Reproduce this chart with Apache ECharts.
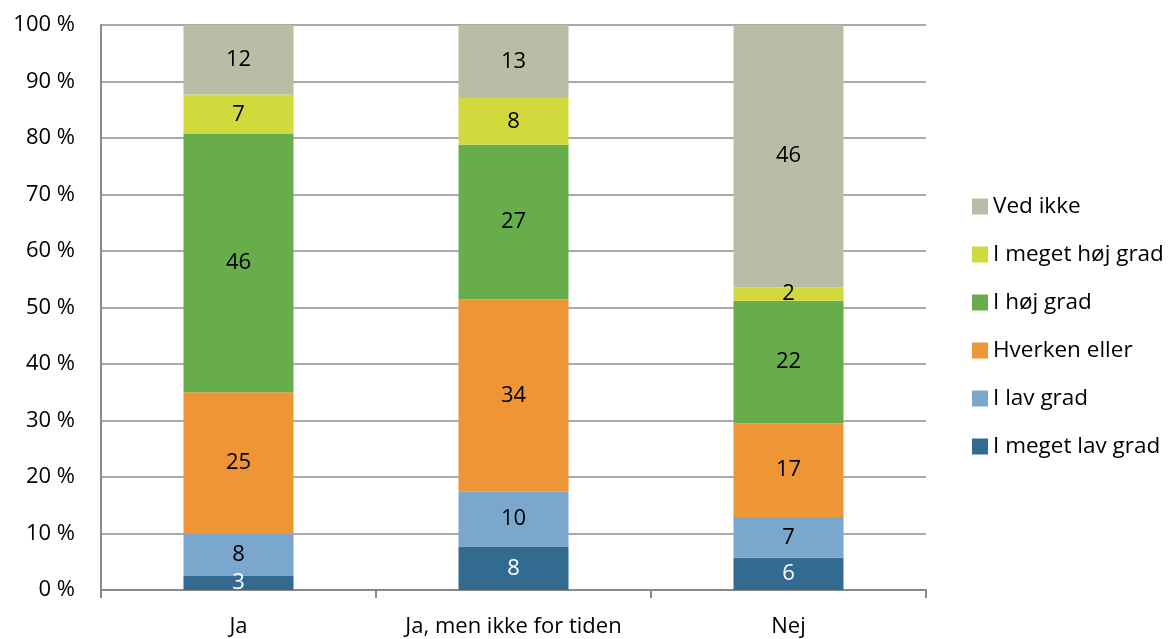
<!DOCTYPE html>
<html>
<head>
<meta charset="utf-8">
<script src="https://cdn.jsdelivr.net/npm/echarts@6/dist/echarts.min.js"></script>
<style>
  html, body { margin: 0; padding: 0; background: #fff; }
  #chart { width: 1169px; height: 639px; }
</style>
</head>
<body>
<div id="chart"></div>
<script>
// kategorier på x-aksen
var categories = ["Ja", "Ja, men ikke for tiden", "Nej"];

// andele i procent, nederst -> øverst
var meget_lav = [2.5, 7.7, 5.7];
var lav = [7.5, 9.8, 7.2];
var hverken = [25.0, 33.9, 16.6];
var hoej = [45.7, 27.4, 21.7];
var meget_hoej = [7.0, 8.3, 2.4];
var ved_ikke = [12.3, 12.9, 46.4];

var seriesNames = ["I meget lav grad", "I lav grad", "Hverken eller", "I høj grad", "I meget høj grad", "Ved ikke"];
var seriesValues = [meget_lav, lav, hverken, hoej, meget_hoej, ved_ikke];
var seriesColors = ["#336A90", "#7BA6CE", "#EE9536", "#68AD4C", "#D1D93D", "#B9BDA6"];

var yTicks = [0, 10, 20, 30, 40, 50, 60, 70, 80, 90, 100];

var font = "'Open Sans', sans-serif";

var series = [];
for (var i = 0; i < seriesNames.length; i++) {
  series.push({
    name: seriesNames[i],
    type: "bar",
    stack: "total",
    barWidth: "40%",
    data: seriesValues[i],
    itemStyle: { color: seriesColors[i] },
    label: {
      show: true,
      position: "inside",
      fontFamily: font,
      fontSize: 22,
      color: i === 0 ? "#ffffff" : "#000000",
      formatter: function (p) { return Math.round(p.value); }
    }
  });
}

var chart = echarts.init(document.getElementById("chart"));
chart.setOption({
  animation: false,
  textStyle: { fontFamily: font },
  grid: { left: 101, right: 243, top: 25, bottom: 49, containLabel: false },
  legend: {
    orient: "vertical",
    left: 967,
    top: 190,
    itemWidth: 16,
    itemHeight: 16,
    itemGap: 25,
    icon: "rect",
    data: seriesNames.slice().reverse(),
    textStyle: { fontFamily: font, fontSize: 22.5, color: "#000", lineHeight: 22 }
  },
  xAxis: {
    type: "category",
    data: categories,
    axisLine: { lineStyle: { color: "#898989", width: 2 } },
    axisTick: { show: true, length: 8, lineStyle: { color: "#898989", width: 2 } },
    axisLabel: { fontFamily: font, fontSize: 22, color: "#000", margin: 26, interval: 0 }
  },
  yAxis: {
    type: "value",
    min: 0,
    max: 100,
    interval: 10,
    axisLine: { show: true, lineStyle: { color: "#898989", width: 2 } },
    axisTick: { show: false },
    splitLine: { lineStyle: { color: "#8c8c8c", width: 1.5 } },
    axisLabel: {
      fontFamily: font,
      fontSize: 22,
      color: "#000",
      margin: 26,
      formatter: function (v) { return yTicks.indexOf(v) >= 0 ? v + " %" : ""; }
    }
  },
  series: series
});
</script>
</body>
</html>
